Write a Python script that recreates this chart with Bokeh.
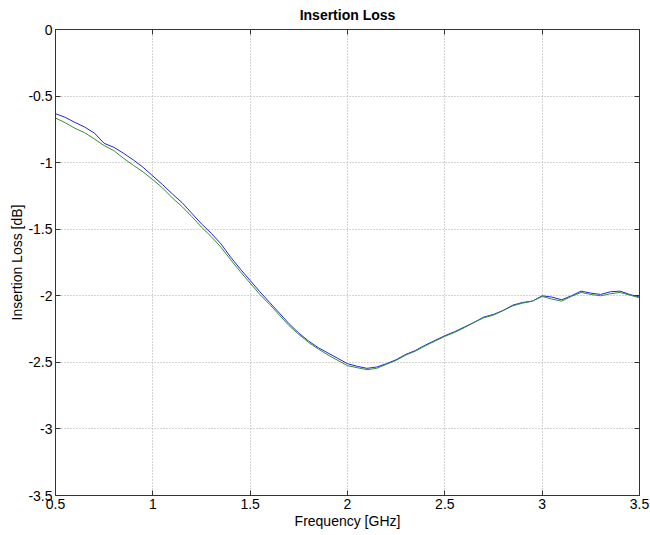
from bokeh.plotting import figure
from bokeh.models import LinearAxis, Range1d, FixedTicker, CustomJSTickFormatter, CustomLabelingPolicy
from bokeh.embed import file_html
from bokeh.resources import INLINE

freq = [0.50, 0.55, 0.60, 0.65, 0.70, 0.75, 0.80, 0.85, 0.90, 0.95,
        1.00, 1.05, 1.10, 1.15, 1.20, 1.25, 1.30, 1.35, 1.40, 1.45,
        1.50, 1.55, 1.60, 1.65, 1.70, 1.75, 1.80, 1.85, 1.90, 1.95,
        2.00, 2.05, 2.10, 2.15, 2.20, 2.25, 2.30, 2.35, 2.40, 2.45,
        2.50, 2.55, 2.60, 2.65, 2.70, 2.75, 2.80, 2.85, 2.90, 2.95,
        3.00, 3.05, 3.10, 3.15, 3.20, 3.25, 3.30, 3.35, 3.40, 3.45, 3.50]

loss_blue = [-0.632, -0.660, -0.698, -0.733, -0.778, -0.855, -0.885, -0.930, -0.980, -1.035,
             -1.100, -1.165, -1.235, -1.300, -1.380, -1.460, -1.530, -1.610, -1.710, -1.800,
             -1.885, -1.970, -2.050, -2.130, -2.210, -2.280, -2.340, -2.390, -2.430, -2.470,
             -2.510, -2.530, -2.545, -2.535, -2.510, -2.480, -2.440, -2.410, -2.370, -2.335,
             -2.300, -2.270, -2.235, -2.200, -2.160, -2.140, -2.110, -2.070, -2.050, -2.040,
             -2.000, -2.010, -2.030, -2.000, -1.965, -1.980, -1.990, -1.970, -1.965, -1.990, -2.010]

loss_green = [-0.665, -0.700, -0.742, -0.775, -0.822, -0.872, -0.910, -0.968, -1.020, -1.070,
              -1.128, -1.190, -1.265, -1.330, -1.405, -1.485, -1.555, -1.635, -1.730, -1.820,
              -1.905, -1.990, -2.065, -2.145, -2.225, -2.290, -2.350, -2.400, -2.445, -2.485,
              -2.525, -2.540, -2.555, -2.545, -2.515, -2.485, -2.445, -2.415, -2.375, -2.340,
              -2.305, -2.275, -2.240, -2.200, -2.165, -2.145, -2.110, -2.075, -2.055, -2.040,
              -2.005, -2.025, -2.040, -2.005, -1.975, -1.990, -2.000, -1.985, -1.975, -1.995, -2.015]

x_ticks = [0.5, 1, 1.5, 2, 2.5, 3, 3.5]
y_ticks = [0, -0.5, -1, -1.5, -2, -2.5, -3, -3.5]

FONT = "Liberation Sans"
AXC = "#333333"

p = figure(width=650, height=535, output_backend="svg", toolbar_location=None,
           x_range=Range1d(0.5, 3.5), y_range=Range1d(-3.5, 0),
           min_border_left=55, min_border_right=11, min_border_top=29, min_border_bottom=40,
           x_axis_label="Frequency [GHz]", y_axis_label="Insertion Loss [dB]")

p.title.text = "Insertion Loss"
p.title.align = "center"
p.title.text_font = FONT
p.title.text_font_size = "14px"
p.title.text_font_style = "bold"
p.title.text_color = "#000000"
p.title.standoff = 6

p.outline_line_color = AXC
p.outline_line_width = 1
p.background_fill_color = "white"
p.border_fill_color = "white"

fmt = CustomJSTickFormatter(code="return tick.toString();")

for ax in [p.xaxis[0], p.yaxis[0]]:
    ax.major_tick_in = 5
    ax.major_tick_out = 0
    ax.minor_tick_in = 0
    ax.minor_tick_out = 0
    ax.axis_line_color = AXC
    ax.major_tick_line_color = AXC
    ax.major_label_text_font = FONT
    ax.major_label_text_font_size = "14px"
    ax.major_label_text_color = "#000000"
    ax.axis_label_text_font = FONT
    ax.axis_label_text_font_size = "14px"
    ax.axis_label_text_font_style = "normal"
    ax.axis_label_text_color = "#000000"
    ax.formatter = fmt

p.xaxis[0].ticker = FixedTicker(ticks=x_ticks)
p.yaxis[0].ticker = FixedTicker(ticks=y_ticks)
p.xaxis[0].major_label_standoff = 3
p.yaxis[0].major_label_standoff = 3
p.xaxis[0].axis_label_standoff = 1
p.yaxis[0].axis_label_standoff = 0

# tick marks on the top and right edges of the box (labels suppressed)
no_labels = CustomLabelingPolicy(code="""
try { for (let i = 0; i < indices.size; i++) { indices.unset(i); } } catch (e) {}
return indices;
""")
top_ax = LinearAxis(ticker=FixedTicker(ticks=x_ticks), major_label_policy=no_labels,
                    major_label_text_font_size="1px",
                    major_tick_in=5, major_tick_out=0, minor_tick_in=0, minor_tick_out=0,
                    axis_line_color=AXC, major_tick_line_color=AXC, major_label_standoff=0)
right_ax = LinearAxis(ticker=FixedTicker(ticks=y_ticks), major_label_policy=no_labels,
                      major_label_text_font_size="1px",
                      major_tick_in=5, major_tick_out=0, minor_tick_in=0, minor_tick_out=0,
                      axis_line_color=AXC, major_tick_line_color=AXC, major_label_standoff=0)
p.add_layout(top_ax, "above")
p.add_layout(right_ax, "right")

p.xgrid[0].ticker = FixedTicker(ticks=x_ticks)
p.ygrid[0].ticker = FixedTicker(ticks=y_ticks)
for g in [p.xgrid[0], p.ygrid[0]]:
    g.grid_line_color = "#a8a8a8"
    g.grid_line_dash = "1 2"
    g.grid_line_width = 1

p.line(freq, loss_blue, line_color="#2424dc", line_width=1)
p.line(freq, loss_green, line_color="#30903a", line_width=1)

open("out.html", "w").write(file_html(p, INLINE))
